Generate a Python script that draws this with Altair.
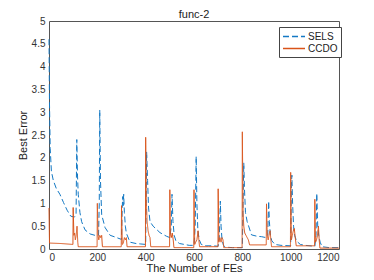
import altair as alt
import pandas as pd

# SELS (blue dashed)
sels_x = [0, 2, 5, 10, 18, 30, 45, 60, 75, 90, 105, 112, 115, 118, 121, 128, 135, 149, 170, 190, 205,
          208, 210, 213, 218, 232, 253, 280, 300, 303, 305, 307, 309, 312, 316, 320, 335, 360, 380, 400,
          402, 404, 408, 412, 418, 431, 459, 486, 500, 506, 509, 513, 518, 525, 540, 560, 580, 600,
          605, 609, 612, 616, 622, 630, 650, 680, 700, 705, 709, 712, 716, 722, 730, 760, 800,
          803, 806, 809, 813, 820, 838, 860, 880, 898, 905, 909, 912, 916, 922, 935, 960, 1000,
          1003, 1005, 1008, 1012, 1016, 1025, 1040, 1060, 1100, 1105, 1108, 1112, 1116, 1122, 1130, 1160, 1200]
sels_y = [4.6, 3.2, 2.2, 1.7, 1.5, 1.33, 1.2, 1.02, 0.85, 0.72, 0.7, 0.75, 2.4, 1.6, 1.2, 0.8, 0.6, 0.42, 0.33, 0.3, 0.3,
          1.0, 3.05, 1.5, 0.75, 0.47, 0.3, 0.25, 0.21, 0.9, 1.15, 0.95, 1.2, 0.8, 0.5, 0.35, 0.15, 0.12, 0.11, 0.1,
          1.0, 2.13, 1.5, 0.9, 0.6, 0.5, 0.36, 0.28, 0.25, 0.5, 1.2, 0.6, 0.3, 0.18, 0.12, 0.1, 0.08, 0.08,
          0.5, 2.03, 1.0, 0.4, 0.2, 0.1, 0.07, 0.07, 0.06, 0.3, 1.05, 0.5, 0.2, 0.08, 0.04, 0.03, 0.03,
          1.0, 1.89, 1.3, 0.8, 0.6, 0.31, 0.28, 0.27, 0.25, 0.3, 1.05, 0.6, 0.3, 0.18, 0.1, 0.08, 0.07,
          1.4, 1.62, 1.0, 0.5, 0.3, 0.17, 0.1, 0.08, 0.06, 0.3, 1.22, 0.5, 0.3, 0.15, 0.05, 0.03, 0.03]

# CCDO (orange solid)
ccdo_x = [0, 2, 50, 99, 100, 103, 106, 109, 112, 116, 119, 121, 150, 199, 200, 203, 206, 210, 214, 218, 221, 260, 299,
          300, 303, 307, 312, 316, 320, 323, 360, 399, 400, 403, 406, 410, 414, 418, 421, 460, 499,
          500, 503, 506, 510, 514, 517, 550, 599, 600, 603, 607, 612, 617, 620, 623, 660, 699,
          700, 703, 707, 712, 716, 720, 723, 760, 799, 800, 803, 806, 810, 815, 820, 825, 830, 860, 899,
          900, 903, 907, 912, 915, 918, 921, 960, 999, 1000, 1003, 1007, 1011, 1015, 1019, 1023, 1060, 1099,
          1100, 1103, 1107, 1111, 1115, 1118, 1121, 1160, 1200]
ccdo_y = [0.9, 0.13, 0.12, 0.1, 0.91, 0.3, 0.35, 0.2, 0.28, 0.5, 0.15, 0.05, 0.05, 0.05, 1.0, 0.3, 0.2, 0.3, 0.25, 0.3, 0.05, 0.05, 0.05,
          0.95, 0.1, 0.12, 0.25, 0.2, 0.25, 0.05, 0.05, 0.05, 2.45, 1.0, 0.6, 0.4, 0.3, 0.25, 0.05, 0.05, 0.05,
          1.3, 0.3, 0.25, 0.35, 0.2, 0.03, 0.03, 0.03, 1.3, 0.1, 0.15, 0.2, 0.4, 0.2, 0.05, 0.05, 0.05,
          1.32, 0.15, 0.25, 0.15, 0.25, 0.2, 0.03, 0.03, 0.03, 2.57, 0.8, 0.5, 0.35, 0.3, 0.25, 0.2, 0.09, 0.09, 0.09,
          0.99, 0.3, 0.2, 0.35, 0.4, 0.2, 0.05, 0.05, 0.05, 1.68, 0.2, 0.3, 0.4, 0.45, 0.25, 0.07, 0.07, 0.07,
          1.09, 0.15, 0.2, 0.3, 0.5, 0.2, 0.02, 0.02, 0.02]

series_names = ["SELS", "CCDO"]
series_colors = ["#1479C4", "#D95319"]

df = pd.concat([
    pd.DataFrame({"fe": sels_x, "err": sels_y, "series": "SELS", "order": range(len(sels_x))}),
    pd.DataFrame({"fe": ccdo_x, "err": ccdo_y, "series": "CCDO", "order": range(len(ccdo_x))}),
])

font = "Liberation Sans"

legend = alt.Legend(title=None, orient="none", legendX=230, legendY=6,
                    symbolType="M-1,0H3", symbolSize=121, symbolStrokeWidth=1.5,
                    labelFontSize=10, labelFont=font, labelOffset=13, labelColor="#222",
                    fillColor="white", strokeColor="#444", padding=3, rowPadding=0)

chart = alt.Chart(df).mark_line(strokeWidth=1).encode(
    x=alt.X("fe:Q", scale=alt.Scale(domain=[0, 1200], nice=False),
            axis=alt.Axis(title="The Number of FEs", values=[0, 200, 400, 600, 800, 1000, 1200],
                          format="d", grid=False, ticks=False, labelPadding=3, titlePadding=0)),
    y=alt.Y("err:Q", scale=alt.Scale(domain=[0, 5], nice=False),
            axis=alt.Axis(title="Best Error", values=[0, 0.5, 1, 1.5, 2, 2.5, 3, 3.5, 4, 4.5, 5],
                          format="~g", grid=False, ticks=False, labelPadding=4, titlePadding=3)),
    color=alt.Color("series:N", scale=alt.Scale(domain=series_names, range=series_colors), legend=legend),
    strokeDash=alt.StrokeDash("series:N", scale=alt.Scale(domain=series_names, range=[[6, 3], [1, 0]]),
                              legend=legend),
    order="order:Q",
).properties(
    width=290, height=228,
    title=alt.TitleParams("func-2", fontSize=11, fontWeight="normal", font=font, offset=-4, color="#222"),
    autosize=alt.AutoSizeParams(type="none"),
    padding={"left": 41, "top": 13, "right": 27, "bottom": 23},
).configure_view(
    stroke="#555", strokeWidth=1
).configure_axis(
    labelFont=font, titleFont=font, labelFontSize=10, titleFontSize=11,
    titleFontWeight="normal", labelColor="#333", titleColor="#222", domain=False
)

chart.save("out.html", embed_options={"renderer": "svg", "actions": False})
